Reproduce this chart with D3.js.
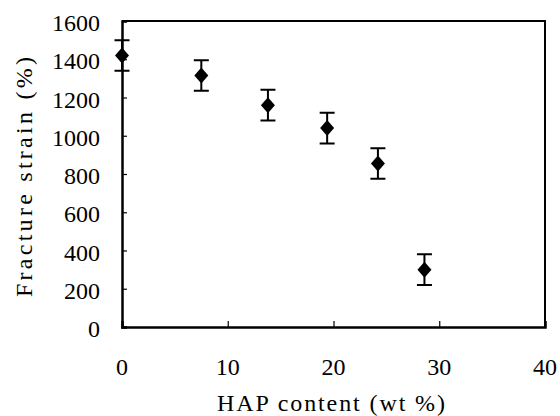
<!DOCTYPE html>
<html>
<head>
<meta charset="utf-8">
<script src="https://cdn.jsdelivr.net/npm/d3@7"></script>
<style>
  body { margin: 0; background: #fff; }
  svg { display: block; }
</style>
</head>
<body>
<svg id="chart" width="560" height="416"></svg>
<script>
/* DATA */
const hapContent = [0, 7.5, 13.8, 19.4, 24.2, 28.6];
const fractureStrain = [1420, 1315, 1160, 1040, 855, 300];
const strainError = [80, 80, 80, 80, 80, 80];
const xTicks = [0, 10, 20, 30, 40];
const yTicks = [0, 200, 400, 600, 800, 1000, 1200, 1400, 1600];

/* CONSTANTS */
const width = 560,
  height = 416,
  margin = {top: 21, bottom: 89, left: 122, right: 15};

const serif = "Times New Roman, Liberation Serif, serif";

const svg = d3.select("#chart");

// scales
const xScale = d3.scaleLinear()
  .domain([0, 40])
  .range([margin.left, width - margin.right]);

const yScale = d3.scaleLinear()
  .domain([0, 1600])
  .range([height - margin.bottom, margin.top]);

// frame (top + right)
svg.append("path")
  .attr("d", `M${xScale(0)},${yScale(1600)}H${xScale(40)}V${yScale(0)}`)
  .attr("fill", "none")
  .attr("stroke", "#000")
  .attr("stroke-width", 2);

// y axis, ticks inward
const yAxis = d3.axisRight(yScale)
  .tickValues(yTicks)
  .tickSize(5)
  .tickFormat("");

svg.append("g")
  .attr("transform", `translate(${xScale(0)},0)`)
  .call(yAxis)
  .call(g => g.select(".domain").attr("stroke-width", 2.5))
  .call(g => g.selectAll(".tick line").attr("stroke-width", 1.2));

// x axis, ticks inward (up)
const xAxis = d3.axisTop(xScale)
  .tickValues(xTicks)
  .tickSize(6)
  .tickFormat("");

svg.append("g")
  .attr("transform", `translate(0,${yScale(0)})`)
  .call(xAxis)
  .call(g => g.select(".domain").attr("stroke-width", 2.5))
  .call(g => g.selectAll(".tick line").attr("stroke-width", 1.2));

// tick labels
svg.append("g")
  .selectAll("text")
  .data(yTicks)
  .join("text")
  .attr("x", 100)
  .attr("y", d => yScale(d) + 10)
  .attr("text-anchor", "end")
  .attr("font-family", serif)
  .attr("font-size", 24)
  .text(d => d);

svg.append("g")
  .selectAll("text")
  .data(xTicks)
  .join("text")
  .attr("x", d => xScale(d))
  .attr("y", 375)
  .attr("text-anchor", "middle")
  .attr("font-family", serif)
  .attr("font-size", 24)
  .text(d => d);

// axis titles (serif, stretched to the monospaced width of the original)
svg.append("text")
  .attr("x", 217)
  .attr("y", 411)
  .attr("font-family", serif)
  .attr("font-size", 24)
  .attr("textLength", 228)
  .attr("lengthAdjust", "spacing")
  .text("HAP content (wt %)");

svg.append("text")
  .attr("transform", "translate(32,297) rotate(-90)")
  .attr("font-family", serif)
  .attr("font-size", 24)
  .attr("textLength", 240)
  .attr("lengthAdjust", "spacing")
  .text("Fracture strain (%)");

// error bars
const points = hapContent.map((x, i) => ({x: x, y: fractureStrain[i], e: strainError[i]}));
const cap = 7.5;

svg.append("g")
  .selectAll("path.err")
  .data(points)
  .join("path")
  .attr("class", "err")
  .attr("fill", "none")
  .attr("stroke", "#000")
  .attr("stroke-width", 2)
  .attr("d", d => {
    const cx = xScale(d.x), y1 = yScale(d.y + d.e), y0 = yScale(d.y - d.e);
    return `M${cx - cap},${y1}H${cx + cap}M${cx},${y1}V${y0}M${cx - cap},${y0}H${cx + cap}`;
  });

// diamond markers
svg.append("g")
  .selectAll("path.pt")
  .data(points)
  .join("path")
  .attr("class", "pt")
  .attr("fill", "#000")
  .attr("d", d => {
    const cx = xScale(d.x), cy = yScale(d.y);
    return `M${cx},${cy - 8}L${cx + 7},${cy}L${cx},${cy + 8}L${cx - 7},${cy}Z`;
  });
</script>
</body>
</html>
